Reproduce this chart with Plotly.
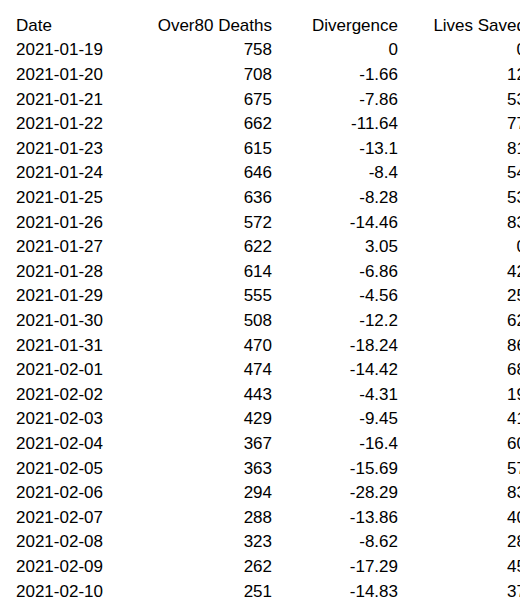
import plotly.graph_objects as go

headers = ["Date", "Over80 Deaths", "Divergence", "Lives Saved"]
dates = ["2021-01-19","2021-01-20","2021-01-21","2021-01-22","2021-01-23","2021-01-24",
         "2021-01-25","2021-01-26","2021-01-27","2021-01-28","2021-01-29","2021-01-30",
         "2021-01-31","2021-02-01","2021-02-02","2021-02-03","2021-02-04","2021-02-05",
         "2021-02-06","2021-02-07","2021-02-08","2021-02-09","2021-02-10"]
deaths = [758,708,675,662,615,646,636,572,622,614,555,508,470,474,443,429,367,363,294,288,323,262,251]
divergence = ["0","-1.66","-7.86","-11.64","-13.1","-8.4","-8.28","-14.46","3.05","-6.86","-4.56",
              "-12.2","-18.24","-14.42","-4.31","-9.45","-16.4","-15.69","-28.29","-13.86","-8.62",
              "-17.29","-14.83"]
saved = [0,12,53,77,81,54,53,83,0,42,25,62,86,68,19,41,60,57,83,40,28,45,37]

font = dict(family="Liberation Sans, Arial, sans-serif", size=17, color="black")
fig = go.Figure(go.Table(
    columnwidth=[130, 142, 126, 128],
    header=dict(values=headers, align=["left", "right", "right", "right"],
                fill_color="white", line_color="white", font=font, height=24.6),
    cells=dict(values=[dates, deaths, divergence, saved],
               align=["left", "right", "right", "right"],
               fill_color="white", line_color="white", font=font, height=24.6),
))
fig.update_layout(width=528, height=614, margin=dict(l=0, r=2, t=2, b=0),
                  paper_bgcolor="white")
fig.write_html("out.html")
